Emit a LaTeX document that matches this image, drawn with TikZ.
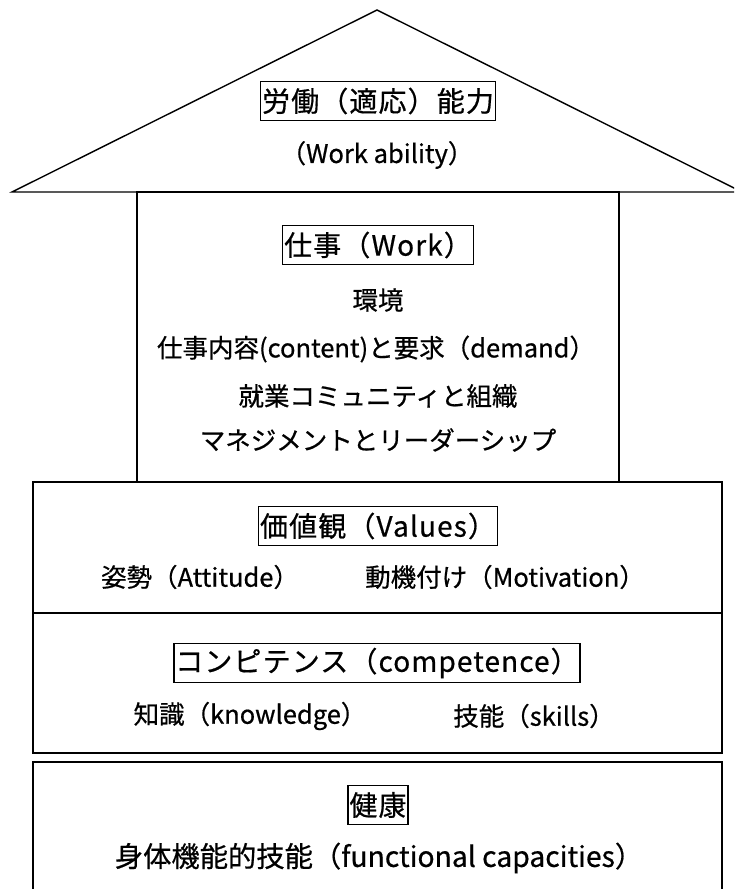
\documentclass[tikz,border=0pt]{standalone}
\usepackage{fontspec}
\setmainfont[FakeBold=0.6]{Noto Sans CJK JP}
\newfontfamily\bodyfont[FakeBold=0.6]{Noto Sans CJK JP}
\newfontfamily\titlefont[LetterSpace=4,FakeBold=0.6]{Noto Sans CJK JP}
\begin{document}
\begin{tikzpicture}[x=1pt,y=-1pt,
  outline/.style={draw=black,line width=1.4pt},
  titlebox/.style={draw=black,line width=1.6pt,inner xsep=1.5pt,inner ysep=2pt,
    minimum height=39pt,font=\titlefont\fontsize{28}{31}\selectfont},
  bodytext/.style={inner sep=0pt,font=\bodyfont\fontsize{25.5}{28}\selectfont},
  bigtext/.style={inner sep=0pt,font=\bodyfont\fontsize{28.3}{31}\selectfont}]
\useasboundingbox (0,0) rectangle (734,889);
\clip (0,0) rectangle (734,889);
% roof
\draw[outline,line join=miter] (12,192) -- (377,10) -- (742,192) -- cycle;
% work block
\draw[outline] (137,192) rectangle (619,482);
% values / competence block
\draw[outline] (33,482) rectangle (722,753);
\draw[outline] (33,613) -- (722,613);
% health block
\draw[outline] (33,762) rectangle (722,900);

\node[titlebox] (wa) at (378,101) {労働（適応）能力};
\node[bodytext] (wae) at (377,155) {（Work ability）};

\node[titlebox] (work) at (378,245) {仕事（Work）};
\node[bodytext] (env) at (378,300) {環境};
\node[bodytext] (cont) at (376,349) {仕事内容(content)と要求（demand）};
\node[bodytext] (comm) at (378,396) {就業コミュニティと組織};
\node[bodytext] (mgmt) at (378,440) {マネジメントとリーダーシップ};

\node[titlebox] (val) at (378,526) {価値観（Values）};
\node[bodytext] (att) at (200,577) {姿勢（Attitude）};
\node[bodytext] (mot) at (505,577) {動機付け（Motivation）};

\node[titlebox] (comp) at (377,663) {コンピテンス（competence）};
\node[bodytext] (know) at (250,716) {知識（knowledge）};
\node[bodytext] (skill) at (534,716) {技能（skills）};

\node[titlebox] (health) at (378,805) {健康};
\node[bigtext] (func) at (379,858) {身体機能的技能（functional capacities）};
\end{tikzpicture}
\end{document}
